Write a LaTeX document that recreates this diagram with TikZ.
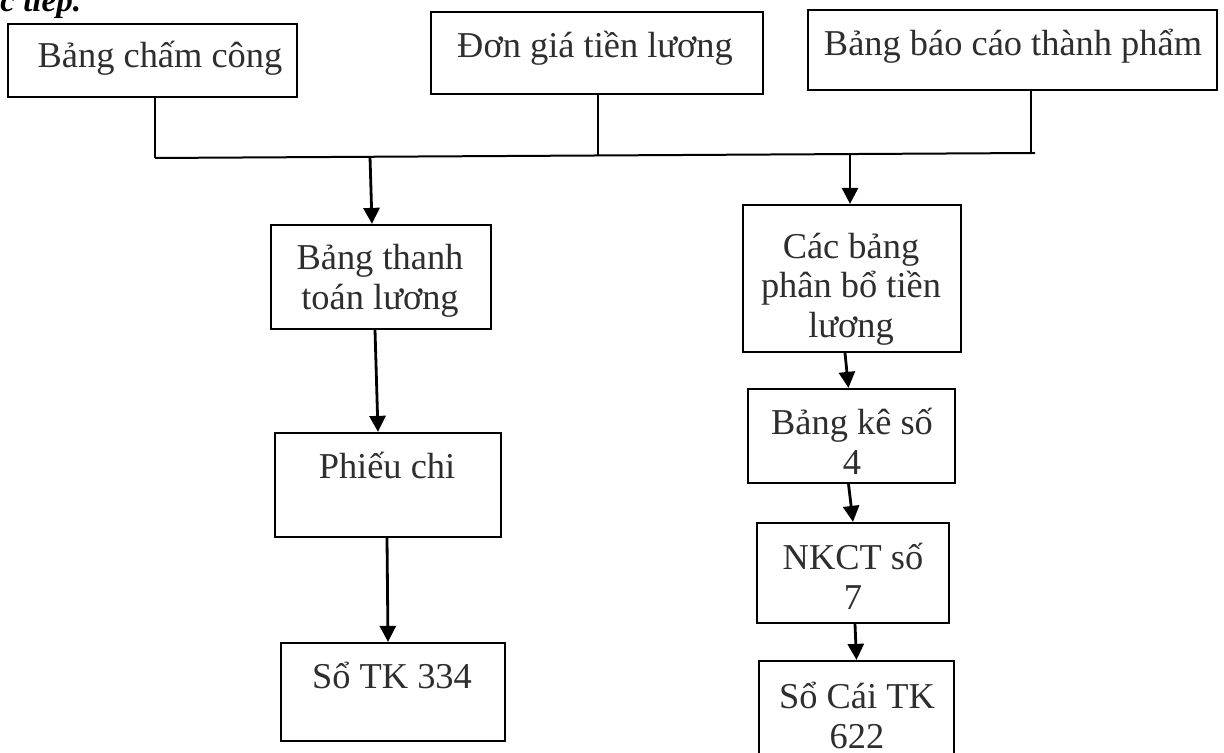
\documentclass[tikz,border=0pt]{standalone}
\usepackage{fontspec}
\setmainfont{Liberation Serif}
\usetikzlibrary{arrows.meta,fit}
\begin{document}
\begin{tikzpicture}[x=0.5pt,y=-0.5pt,
  box/.style={draw=black,line width=1.1pt,inner sep=0pt},
  txt/.style={text=black!82,font=\fontsize{18.2}{19.7}\selectfont,align=center,inner sep=0pt,anchor=base},
  ttl/.style={text=black,font=\fontsize{16.5}{19}\selectfont\bfseries\itshape,inner sep=0pt,anchor=base west},
  ln/.style={draw=black,line width=1pt},
  arr/.style={draw=black,line width=1.4pt,-{Triangle[length=8pt,width=8pt]}}]
\useasboundingbox (0,0) rectangle (1224,753);
\clip (0,0) rectangle (1224,753);
\node[ttl] (title) at (0,12) {c tiếp.};
% boxes
\node[box,fit={(8,24) (297,97)}] (b1) {};
\node[box,fit={(431,12) (763,94)}] (b2) {};
\node[box,fit={(808,10) (1217,90)}] (b3) {};
\node[box,fit={(271,225) (491,329)}] (b4) {};
\node[box,fit={(743,205) (961,352)}] (b5) {};
\node[box,fit={(748,389) (955,483)}] (b6) {};
\node[box,fit={(757,523) (949,623)}] (b7) {};
\node[box,fit={(759,661) (954,775)}] (b8) {};
\node[box,fit={(275,433) (501,537)}] (b9) {};
\node[box,fit={(281,643) (505,741)}] (b10) {};
% texts (base = baseline of the last line)
\node[txt] (t1) at (160,68) {Bảng chấm công};
\node[txt] (t2) at (595,58) {Đơn giá tiền lương};
\node[txt] (t3) at (1013,56) {Bảng báo cáo thành phẩm};
\node[txt] (t4) at (380,309) {Bảng thanh\\toán lương};
\node[txt] (t5) at (851,337) {Các bảng\\phân bổ tiền\\lương};
\node[txt] (t6) at (852,474) {Bảng kê số\\4};
\node[txt] (t7) at (853,609) {NKCT số\\7};
\node[txt] (t8) at (857,748) {Sổ Cái TK\\622};
\node[txt] (t9) at (387,478) {Phiếu chi};
\node[txt] (t10) at (392,688) {Sổ TK 334};
% bus
\coordinate (busL) at (155,158);
\coordinate (busR) at (1035,153);
\coordinate (j1) at (155,158);
\coordinate (j2) at (598,155.5);
\coordinate (j3) at (1031,153);
\coordinate (s1) at (370,157);
\coordinate (s2) at (850,154.5);
\draw[ln] (busL) -- (busR);
\draw[ln] (b1.south -| j1) -- (j1);
\draw[ln] (b2.south -| j2) -- (j2);
\draw[ln] (b3.south -| j3) -- (j3);
\draw[arr] (s1) -- ([xshift=-4.5pt]b4.north);
\draw[arr] (s2) -- (s2 |- b5.north);
\draw[arr] ([xshift=-3pt]b4.south) -- ([xshift=-5pt]b9.north);
\draw[arr] ([xshift=-0.5pt]b9.south) -- ([xshift=-2.5pt]b10.north);
\draw[arr] ([xshift=-3.5pt]b5.south) -- ([xshift=-1.5pt]b6.north);
\draw[arr] ([xshift=-1.5pt]b6.south) -- (b7.north);
\draw[arr] ([xshift=1pt]b7.south) -- (b8.north);
\end{tikzpicture}
\end{document}
